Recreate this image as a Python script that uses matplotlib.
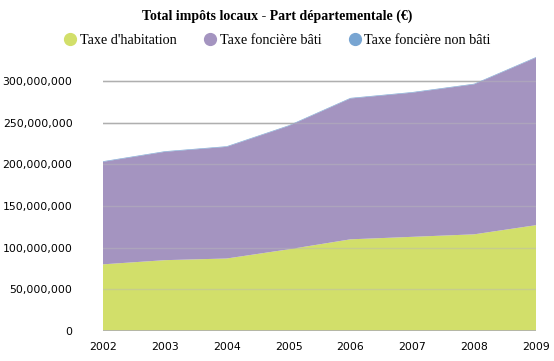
import matplotlib.pyplot as plt
from matplotlib.lines import Line2D
from matplotlib.ticker import FuncFormatter

# values (euros)
years = [2002, 2003, 2004, 2005, 2006, 2007, 2008, 2009]
habitation = [80e6, 85e6, 87e6, 98e6, 110e6, 113e6, 116e6, 127e6]
fonciere_bati = [123e6, 130e6, 134e6, 148e6, 169e6, 173e6, 180e6, 201e6]
fonciere_non_bati = [0.7e6, 0.7e6, 0.7e6, 0.7e6, 0.7e6, 0.7e6, 0.7e6, 0.7e6]

labels = ["Taxe d'habitation", "Taxe foncière bâti", "Taxe foncière non bâti"]
colors = ["#d2df6a", "#a494c0", "#78a5d2"]
yticks = [0, 50e6, 100e6, 150e6, 200e6, 250e6, 300e6]

fig = plt.figure(figsize=(5.54, 3.61), dpi=100)
ax = fig.add_axes([103 / 554, 1 - 331 / 361, 433 / 554, 275 / 361])

ax.stackplot(years, habitation, fonciere_bati, fonciere_non_bati,
             colors=colors, zorder=1, linewidth=0)

ax.set_xlim(2002, 2009)
ax.set_ylim(0, 330e6)
ax.set_yticks(yticks)
ax.yaxis.set_major_formatter(FuncFormatter(lambda v, p: "{:,.0f}".format(v)))
ax.set_xticks(years)

# grid grey on white, faint where it crosses the areas
ax.set_axisbelow(True)
ax.grid(axis="y", color="#a8a8a8", linewidth=1)
for y in yticks:
    ax.axhline(y, color="#b8b8b8", linewidth=1, alpha=0.45, zorder=2)
ax.axhline(0, color="#b0b0b0", linewidth=1.2, zorder=2)

for s in ax.spines.values():
    s.set_visible(False)
ax.tick_params(length=0, labelsize=7.8, colors="black")
ax.tick_params(axis="y", pad=22)
ax.tick_params(axis="x", pad=8)

fig.text(0.5, 1 - 16 / 361, "Total impôts locaux - Part départementale (€)",
         ha="center", va="center", family="Liberation Serif",
         fontweight="bold", fontsize=10)

handles = [Line2D([], [], linestyle="", marker="o", markersize=8.5,
                  markerfacecolor=c, markeredgecolor=c) for c in colors]
fig.legend(handles, labels, loc="center", bbox_to_anchor=(0.5, 1 - 40 / 361),
           ncol=3, frameon=False, prop={"family": "Liberation Serif", "size": 10.2},
           handletextpad=0.15, columnspacing=1.9, handlelength=1.0)

fig.savefig("out.png", dpi=100)
